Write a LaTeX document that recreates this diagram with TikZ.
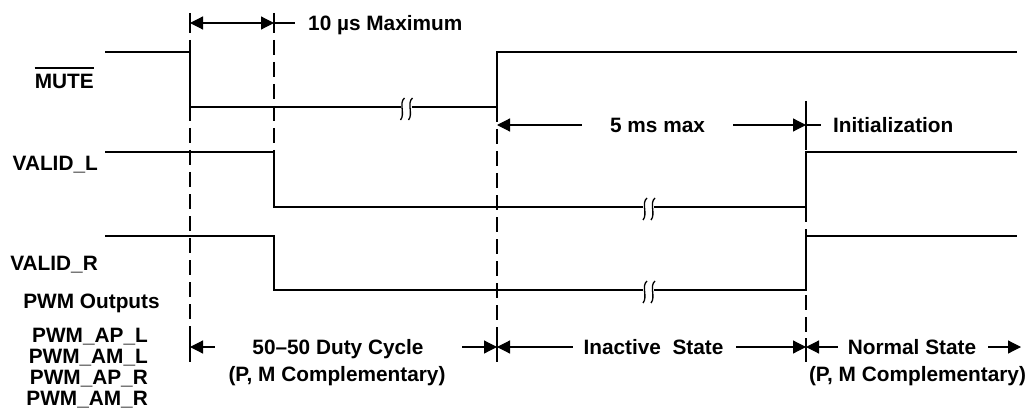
\documentclass[tikz,border=0pt]{standalone}
\usepackage{fontspec}
\setmainfont{Liberation Sans}
\usetikzlibrary{arrows.meta}
\newcommand{\sigbreak}[2]{%
  \draw[brk] ({#1-4+2.5},{#2-9}) .. controls ({#1-4-3.5},{#2-4}) and ({#1-4+3.5},{#2+7}) .. ({#1-4-1.5},{#2+13});
  \draw[brk] ({#1+4+2.5},{#2-9}) .. controls ({#1+4-3.5},{#2-4}) and ({#1+4+3.5},{#2+7}) .. ({#1+4-1.5},{#2+13});}
\begin{document}
\begin{tikzpicture}[x=1pt,y=-1pt,
  sig/.style={line width=2.6pt, line join=miter},
  guide/.style={line width=1.2pt, dash pattern=on 15pt off 7pt},
  tick/.style={line width=1.2pt},
  dim/.style={line width=1.2pt},
  brk/.style={line width=1.3pt},
  larr/.style={{Triangle[length=13pt,width=13pt]}-},
  rarr/.style={-{Triangle[length=13pt,width=13pt]}},
  barr/.style={{Triangle[length=13pt,width=13pt]}-{Triangle[length=13pt,width=13pt]}},
  lbl/.style={font=\fontsize{20.8}{24}\selectfont\bfseries, inner sep=0pt}]
\useasboundingbox (0,0) rectangle (1031,409);

% time markers
\coordinate (g1t) at (190,13);  \coordinate (g1a) at (190,33);
\coordinate (g1d) at (190,40);  \coordinate (g1b) at (190,338); \coordinate (g1e) at (190,362);
\coordinate (g2t) at (274,13);  \coordinate (g2a) at (274,33);
\coordinate (g2d) at (274,40);  \coordinate (g2e) at (274,152);
\coordinate (g3d) at (497,107); \coordinate (g3b) at (497,338); \coordinate (g3e) at (497,362);
\coordinate (g4t) at (806,101); \coordinate (g4a) at (806,150);
\coordinate (g4d) at (806,207); \coordinate (g4b) at (806,338); \coordinate (g4e) at (806,362);

% guide lines
\draw[tick] (g1t) -- (g1a);  \draw[guide] (g1d) -- (g1b);  \draw[tick] (g1b) -- (g1e);
\draw[tick] (g2t) -- (g2a);  \draw[guide] (g2d) -- (g2e);
\draw[guide] (g3d) -- (g3b);  \draw[tick] (g3b) -- (g3e);
\draw[tick] (g4t) -- (g4a);  \draw[guide] (g4d) -- (g4b);  \draw[tick] (g4b) -- (g4e);

% signals
\draw[sig] (105,52) -- (190,52) -- (190,107) -- (400.5,107);
\draw[sig] (411.5,107) -- (497,107) -- (497,52) -- (1017,52);
\sigbreak{406}{107}
\draw[sig] (105,152) -- (274,152) -- (274,207) -- (643,207);
\draw[sig] (654,207) -- (806,207) -- (806,152) -- (1017,152);
\sigbreak{648.5}{207}
\draw[sig] (105,236) -- (274,236) -- (274,290) -- (643,290);
\draw[sig] (654,290) -- (806,290) -- (806,236) -- (1017,236);
\sigbreak{648.5}{290}

% labels
\node[lbl, anchor=base east] (lmute) at (94,89) {MUTE};
\draw[line width=2pt] ([yshift=6pt]lmute.north west) -- ([yshift=6pt]lmute.north east);
\node[lbl, anchor=base east] (lvl) at (98,171) {VALID\_L};
\node[lbl, anchor=base east] (lvr) at (98,270.5) {VALID\_R};
\node[lbl, anchor=base] (lpwm) at (91.5,308.5) {PWM Outputs};
\node[lbl, anchor=base east] (lapl) at (148,342) {PWM\_AP\_L};
\node[lbl, anchor=base east] (laml) at (148,363) {PWM\_AM\_L};
\node[lbl, anchor=base east] (lapr) at (148,384) {PWM\_AP\_R};
\node[lbl, anchor=base east] (lamr) at (148,405) {PWM\_AM\_R};

% top dimension
\coordinate (a1) at (190,23); \coordinate (a2) at (274,23); \coordinate (a3) at (295,23);
\draw[dim,barr] (a1) -- (a2);
\draw[dim] (a2) -- (a3);
\node[lbl, anchor=base west] (t10) at (308,31) {10 µs Maximum};

% 5 ms dimension
\coordinate (c1) at (497,125); \coordinate (c2) at (582,125);
\coordinate (c3) at (733,125); \coordinate (c4) at (806,125); \coordinate (c5) at (821,125);
\draw[dim,larr] (c1) -- (c2);
\draw[dim,rarr] (c3) -- (c4);
\draw[dim] (c4) -- (c5);
\node[lbl, anchor=base] (t5) at (657.5,132.5) {5 ms max};
\node[lbl, anchor=base west] (tinit) at (833,132.5) {Initialization};

% bottom dimensions
\coordinate (b1) at (190,347); \coordinate (b2) at (215,347);
\coordinate (b3) at (462,347); \coordinate (b4) at (497,347);
\coordinate (b5) at (573,347); \coordinate (b6) at (736,347);
\coordinate (b7) at (806,347); \coordinate (b8) at (838,347);
\coordinate (b9) at (988,347); \coordinate (b10) at (1021,347);
\draw[dim,larr] (b1) -- (b2);
\draw[dim,rarr] (b3) -- (b4);
\draw[dim,larr] (b4) -- (b5);
\draw[dim,rarr] (b6) -- (b7);
\draw[dim,larr] (b7) -- (b8);
\draw[dim,rarr] (b9) -- (b10);
\node[lbl, anchor=base] (tduty) at (338,354) {50–50 Duty Cycle};
\node[lbl, anchor=base] (tcomp1) at (337,381.5) {(P, M Complementary)};
\node[lbl, anchor=base] (tinact) at (653.5,354) {Inactive~~State};
\node[lbl, anchor=base] (tnorm) at (912,354) {Normal State};
\node[lbl, anchor=base] (tcomp2) at (917.5,381.5) {(P, M Complementary)};
\end{tikzpicture}
\end{document}
